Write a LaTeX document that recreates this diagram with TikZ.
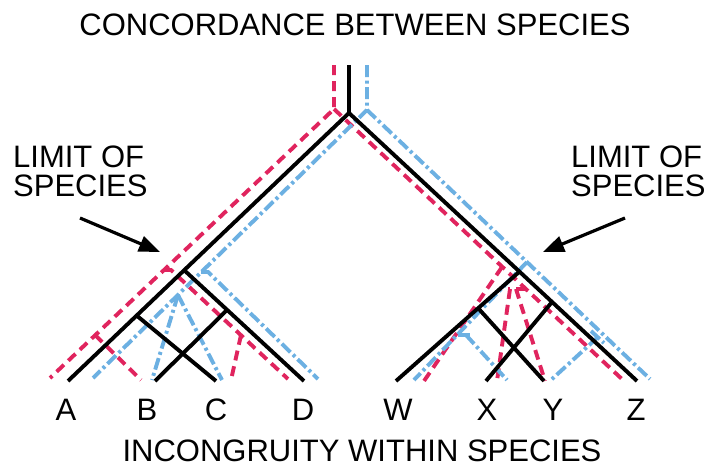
\documentclass[tikz,border=0pt]{standalone}
\usepackage{fontspec}
\setmainfont{Liberation Sans}
\usetikzlibrary{arrows.meta}
\definecolor{gred}{HTML}{E0245E}
\definecolor{gblue}{HTML}{6CB0E2}
\begin{document}
\begin{tikzpicture}[x=1pt,y=-1pt,
  sp/.style={black, line width=3.9pt, line join=miter},
  rg/.style={gred, line width=3.9pt, dash pattern=on 10pt off 6pt},
  bg/.style={gblue, line width=3.9pt, dash pattern=on 12pt off 3.5pt on 3pt off 3.5pt},
  lab/.style={font=\fontsize{31}{31}\selectfont, anchor=base, inner sep=0pt},
  pointer/.style={black, line width=3.2pt, -{Triangle[length=21pt,width=16pt]}}]
\useasboundingbox (0,0) rectangle (710,469);
% ---------- species tree (black)
\coordinate (top) at (349,65);
\coordinate (root) at (349,113);
\coordinate (A) at (68,381);
\coordinate (Z) at (637,381);
\coordinate (L1) at (184,270);
\coordinate (L2) at (136,315);
\coordinate (L3) at (227,310);
\coordinate (B) at (155,381);
\coordinate (C) at (216,381);
\coordinate (D) at (304,381);
\coordinate (R1) at (519,272);
\coordinate (R2) at (478,308);
\coordinate (R3) at (552,302);
\coordinate (W) at (396,381);
\coordinate (X) at (486,381);
\coordinate (Y) at (544,381);
% ---------- red gene tree
\coordinate (rtop) at (334,65);
\coordinate (rroot) at (334,109);
\coordinate (rA) at (50,378);
\coordinate (rZ) at (624,381);
\coordinate (rL1) at (164,270);
\coordinate (rL1b) at (171,270);
\coordinate (rD) at (288,379);
\coordinate (rLC) at (241,335);
\coordinate (rC) at (231,380);
\coordinate (rLB) at (95,335);
\coordinate (rB) at (141,380);
\coordinate (rR1) at (502,267);
\coordinate (rW) at (424,381);
\coordinate (rT1) at (526,289);
\coordinate (rT0) at (508,289);
\coordinate (rTx) at (510,289);
\coordinate (rTy) at (516,289);
\coordinate (rX) at (497,381);
\coordinate (rY) at (545,381);
% ---------- blue gene tree
\coordinate (btop) at (367,65);
\coordinate (broot) at (367,110);
\coordinate (bA) at (93,378);
\coordinate (bZ) at (650,379);
\coordinate (bL1) at (201,272);
\coordinate (bL1b) at (208,272);
\coordinate (bD) at (318,379);
\coordinate (bL2) at (178,295);
\coordinate (bB) at (152,380);
\coordinate (bC) at (222,380);
\coordinate (bR1) at (527,262);
\coordinate (bW) at (414,380);
\coordinate (bR2) at (458,335);
\coordinate (bR2b) at (472,335);
\coordinate (bR2c) at (466,335);
\coordinate (bX) at (507,380);
\coordinate (bT0) at (591,331);
\coordinate (bT1) at (604,343);
\coordinate (bTm) at (598,337);
\coordinate (bY) at (551,380);

% red
\draw[rg] (rtop) -- (rroot) -- (rA);
\draw[rg] (rroot) -- (rZ);
\draw[rg] (rL1) -- (rL1b) -- (rD);
\draw[rg] (rLC) -- (rC);
\draw[rg] (rLB) -- (rB);
\draw[rg] (rR1) -- (rW);
\draw[rg] (rT1) -- (rT0);
\draw[rg] (rTx) -- (rX);
\draw[rg] (rTy) -- (rY);
% blue
\draw[bg] (btop) -- (broot) -- (bA);
\draw[bg] (broot) -- (bZ);
\draw[bg] (bL1) -- (bL1b) -- (bD);
\draw[bg] (bL2) -- (bB);
\draw[bg] (bL2) -- (bC);
\draw[bg] (bR1) -- (bW);
\draw[bg] (bR2) -- (bR2b);
\draw[bg] (bR2c) -- (bX);
\draw[bg] (bT0) -- (bT1);
\draw[bg] (bTm) -- (bY);
% black
\draw[sp] (top) -- (root);
\draw[sp] (A) -- (root) -- (Z);
\draw[sp] (L1) -- (D);
\draw[sp] (L2) -- (C);
\draw[sp] (L3) -- (B);
\draw[sp] (R1) -- (W);
\draw[sp] (R2) -- (Y);
\draw[sp] (R3) -- (X);

% texts
\node[lab] (title) at (355,35) {CONCORDANCE BETWEEN SPECIES};
\node[lab] (bottom) at (362,461) {INCONGRUITY WITHIN SPECIES};
\node[lab, anchor=base west] (ll1) at (13,167) {LIMIT OF};
\node[lab, anchor=base west] (ll2) at (13,196) {SPECIES};
\node[lab, anchor=base west] (rl1) at (571,167) {LIMIT OF};
\node[lab, anchor=base west] (rl2) at (571,196) {SPECIES};
\node[lab] (labA) at (66,420) {A};
\node[lab] (labB) at (147,420) {B};
\node[lab] (labC) at (216,420) {C};
\node[lab] (labD) at (303,420) {D};
\node[lab] (labW) at (398,420) {W};
\node[lab] (labX) at (487,420) {X};
\node[lab] (labY) at (553,420) {Y};
\node[lab] (labZ) at (636,420) {Z};

% arrows
\coordinate (la0) at (80,218);
\coordinate (la1) at (160,252);
\coordinate (ra0) at (625,218);
\coordinate (ra1) at (543,252);
\draw[pointer] (la0) -- (la1);
\draw[pointer] (ra0) -- (ra1);
\end{tikzpicture}
\end{document}
